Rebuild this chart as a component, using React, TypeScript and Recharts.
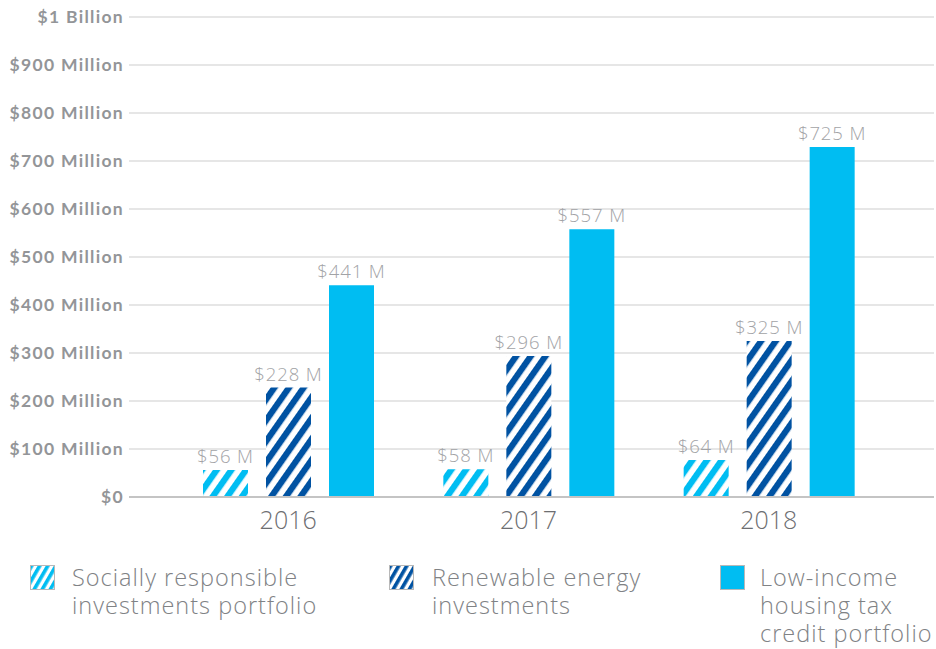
import { BarChart, Bar, XAxis, YAxis, CartesianGrid, Legend, LabelList } from 'recharts';

const years = ['2016', '2017', '2018'];
// bar heights (millions)
const socialValues = [56, 58, 77];
const renewableValues = [228, 294, 325];
const housingValues = [441, 558, 729];
// printed labels above bars
const socialLabels = ['$56 M', '$58 M', '$64 M'];
const renewableLabels = ['$228 M', '$296 M', '$325 M'];
const housingLabels = ['$441 M', '$557 M', '$725 M'];

const yTicks = [0, 100, 200, 300, 400, 500, 600, 700, 800, 900, 1000];
const yTickLabels = ['$0', '$100 Million', '$200 Million', '$300 Million', '$400 Million', '$500 Million',
  '$600 Million', '$700 Million', '$800 Million', '$900 Million', '$1 Billion'];

const seriesNames = ['Socially responsible\ninvestments portfolio', 'Renewable energy\ninvestments', 'Low-income\nhousing tax\ncredit portfolio'];

const LIGHT = '#00bdf2';
const DARK = '#0052a2';
const SANS = '"Open Sans", sans-serif';

const data = years.map((year, i) => ({
  year,
  social: socialValues[i],
  renewable: renewableValues[i],
  housing: housingValues[i],
  socialLabel: socialLabels[i],
  renewableLabel: renewableLabels[i],
  housingLabel: housingLabels[i],
}));

function StripeDefs() {
  return (
    <defs>
      <pattern id="stripeLight" width="12" height="12" patternUnits="userSpaceOnUse" patternTransform="rotate(35)">
        <rect x="0" y="0" width="6.5" height="12" fill={LIGHT} />
        <rect x="6.5" y="0" width="5.5" height="12" fill="#ffffff" />
      </pattern>
      <pattern id="stripeDark" width="12" height="12" patternUnits="userSpaceOnUse" patternTransform="rotate(35)">
        <rect x="0" y="0" width="6.5" height="12" fill={DARK} />
        <rect x="6.5" y="0" width="5.5" height="12" fill="#ffffff" />
      </pattern>
      <pattern id="legLight" width="7" height="7" patternUnits="userSpaceOnUse" patternTransform="rotate(30)">
        <rect x="0" y="0" width="3.8" height="7" fill={LIGHT} />
        <rect x="3.8" y="0" width="3.2" height="7" fill="#ffffff" />
      </pattern>
      <pattern id="legDark" width="7" height="7" patternUnits="userSpaceOnUse" patternTransform="rotate(30)">
        <rect x="0" y="0" width="3.8" height="7" fill={DARK} />
        <rect x="3.8" y="0" width="3.2" height="7" fill="#ffffff" />
      </pattern>
    </defs>
  );
}

function LegendBox() {
  const items = [
    { name: seriesNames[0], fill: 'url(#legLight)', iconX: 30, textX: 72 },
    { name: seriesNames[1], fill: 'url(#legDark)', iconX: 389, textX: 432 },
    { name: seriesNames[2], fill: LIGHT, iconX: 720, textX: 760 },
  ];
  return (
    <div style={{ position: 'relative', width: 936, height: 104 }}>
      {items.map((item) => (
        <div key={item.name}>
          <svg width={26} height={26} style={{ position: 'absolute', left: item.iconX, top: 20 }}>
            <StripeDefs />
            <rect x={0.5} y={0.5} width={24} height={24} fill={item.fill} stroke="#b8b8b8" strokeWidth={1} />
          </svg>
          <div
            style={{
              position: 'absolute',
              left: item.textX,
              top: 18,
              fontFamily: SANS,
              fontWeight: 300,
              fontSize: 23.5,
              letterSpacing: 1,
              lineHeight: '28px',
              color: '#808285',
              whiteSpace: 'pre',
              textAlign: 'left',
            }}
          >
            {item.name}
          </div>
        </div>
      ))}
    </div>
  );
}

// custom label so text isn't wrapped to bar width
function BarLabel(props: any) {
  const { x, y, width, value } = props;
  return (
    <text
      x={x + width / 2}
      y={y - 7}
      textAnchor="middle"
      fill="#a2a3a6"
      fontSize={18.5}
      fontFamily={SANS}
      fontWeight={300}
      letterSpacing={0.9}
    >
      {value}
    </text>
  );
}

export default function App() {
  return (
    <div style={{ position: 'absolute', left: 0, top: 0 }}>
      <BarChart
        width={936}
        height={649}
        data={data}
        margin={{ top: 17, right: 2, left: 0, bottom: 0 }}
        barSize={45}
        barGap={18}
      >
        <StripeDefs />
        <CartesianGrid vertical={false} stroke="#e6e6e6" strokeWidth={2} />
        <XAxis
          dataKey="year"
          height={48}
          padding={{ left: 39, right: 45 }}
          tickLine={false}
          axisLine={{ stroke: '#c4c4c4', strokeWidth: 2 }}
          tick={{ fill: '#6d6e71', fontSize: 25, fontFamily: SANS, fontWeight: 300 }}
          tickMargin={8}
        />
        <YAxis
          width={129}
          domain={[0, 1000]}
          ticks={yTicks}
          interval={0}
          tickLine={false}
          tickSize={0}
          axisLine={false}
          tickMargin={5}
          tickFormatter={(v: number) => yTickLabels[yTicks.indexOf(v)]}
          tick={{ fill: '#939598', fontSize: 17.5, fontWeight: 700, fontFamily: 'Lato, sans-serif', letterSpacing: 1.3 }}
        />
        <Legend verticalAlign="bottom" height={104} content={() => <LegendBox />} wrapperStyle={{ left: 0, bottom: 0 }} />
        <Bar dataKey="social" fill="url(#stripeLight)" isAnimationActive={false}>
          <LabelList dataKey="socialLabel" content={BarLabel} />
        </Bar>
        <Bar dataKey="renewable" fill="url(#stripeDark)" isAnimationActive={false}>
          <LabelList dataKey="renewableLabel" content={BarLabel} />
        </Bar>
        <Bar dataKey="housing" fill={LIGHT} isAnimationActive={false}>
          <LabelList dataKey="housingLabel" content={BarLabel} />
        </Bar>
      </BarChart>
    </div>
  );
}
